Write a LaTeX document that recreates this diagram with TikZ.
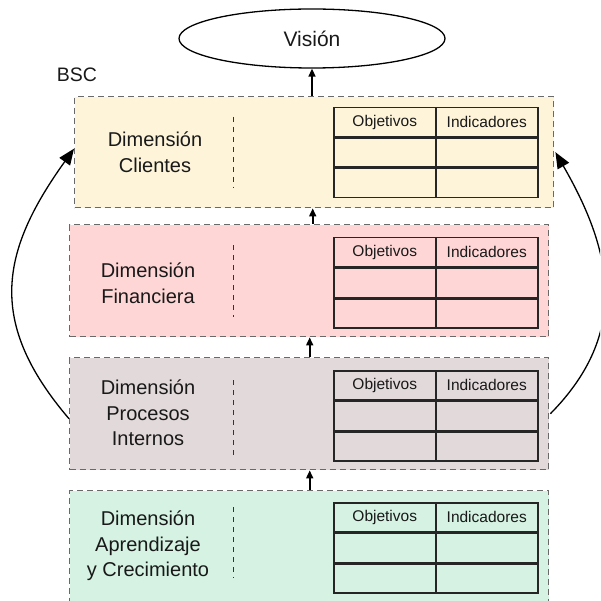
\documentclass[tikz,border=0pt]{standalone}
\usepackage{fontspec}
\setmainfont{Liberation Sans}
\usetikzlibrary{arrows.meta,shapes.geometric}
\definecolor{fyel}{RGB}{253,244,217}
\definecolor{fpink}{RGB}{255,214,214}
\definecolor{fgray}{RGB}{226,217,218}
\definecolor{fgreen}{RGB}{213,242,226}
\definecolor{dashgray}{RGB}{105,105,105}
\tikzset{
  dimbox/.style={draw=dashgray,line width=1.4pt,dash pattern=on 6pt off 4pt,anchor=north west,inner sep=0pt},
  dimtext/.style={align=center,font=\fontsize{20}{25.5}\selectfont,text=black!90,inner sep=0pt},
  divline/.style={draw=black!80,line width=1pt,dash pattern=on 5pt off 5pt},
  cell/.style={draw=black!85,line width=1.5pt,minimum width=102pt,minimum height=29pt,inner sep=0pt,font=\fontsize{15.5}{18}\selectfont,text=black!90},
  varrow/.style={line width=1.6pt,-{Triangle[length=8pt,width=7pt]}},
  carrow/.style={line width=1.3pt,-{Triangle[length=16pt,width=13pt]}}
}
\newcommand{\mktable}[3]{% name, left x, top y
  \node[cell,anchor=north west] (#1o) at (#2,#3) {Objetivos};
  \node[cell,anchor=north west] (#1i) at (#2+102,#3) {Indicadores};
  \node[cell,anchor=north] (#1a) at (#1o.south) {};
  \node[cell,anchor=north] (#1b) at (#1i.south) {};
  \node[cell,anchor=north] (#1c) at (#1a.south) {};
  \node[cell,anchor=north] (#1d) at (#1b.south) {};
}
\begin{document}
\begin{tikzpicture}[x=1pt,y=-1pt]
\useasboundingbox (0,0) rectangle (600,601);
\clip (0,0) rectangle (600,601);
% vision
\node[draw,ellipse,line width=1.3pt,minimum width=266pt,minimum height=59pt,inner sep=0pt,font=\fontsize{21}{24}\selectfont,text=black!90] (v) at (312,38.5) {Visión};
\node[font=\fontsize{19.5}{22}\selectfont,inner sep=0pt,text=black!90] (bsc) at (77,74.5) {BSC};
% boxes
\node[dimbox,fill=fyel,minimum width=479pt,minimum height=111pt] (b1) at (74,96) {};
\node[dimbox,fill=fpink,minimum width=479pt,minimum height=112pt] (b2) at (69,224) {};
\node[dimbox,fill=fgray,minimum width=479pt,minimum height=112pt] (b3) at (69,357) {};
\node[dimbox,fill=fgreen,minimum width=479pt,minimum height=125pt] (b4) at (69,490) {};
% labels
\node[dimtext] (t1) at (155,152) {Dimensión\\Clientes};
\node[dimtext] (t2) at (148,283) {Dimensión\\Financiera};
\node[dimtext] (t3) at (148,413) {Dimensión\\Procesos\\Internos};
\node[dimtext] (t4) at (148,546) {Dimensión\\Aprendizaje\\y Crecimiento};
% dividers
\coordinate (d1a) at (233,117); \coordinate (d1b) at (233,188);
\coordinate (d2a) at (233,245); \coordinate (d2b) at (233,317);
\coordinate (d3a) at (233,380); \coordinate (d3b) at (233,455);
\coordinate (d4a) at (233,507); \coordinate (d4b) at (233,578);
\draw[divline] (d1a) -- (d1b);
\draw[divline] (d2a) -- (d2b);
\draw[divline] (d3a) -- (d3b);
\draw[divline] (d4a) -- (d4b);
% tables
\mktable{ta}{333}{107}
\mktable{tb}{333}{237}
\mktable{tc}{333}{370}
\mktable{td}{333}{502}
% vertical arrows
\draw[varrow] (v.south |- b1.north) -- (v.south);
\draw[varrow] ([xshift=3.5pt]b2.north) -- ([xshift=3.5pt]b2.north |- b1.south);
\draw[varrow] ([xshift=0.5pt]b3.north) -- ([xshift=0.5pt]b3.north |- b2.south);
\draw[varrow] ([xshift=0.5pt]b4.north) -- ([xshift=0.5pt]b4.north |- b3.south);
% curved arrows
\draw[carrow] ([yshift=-5pt]b3.west) .. controls +(-82.5,-96.5) and +(-73.7,102.9) .. ([yshift=3.5pt]b1.west);
\draw[carrow] ([xshift=1pt]b3.east) .. controls +(80,-81) and +(57,99) .. ([xshift=1pt]b1.east);
\end{tikzpicture}
\end{document}
